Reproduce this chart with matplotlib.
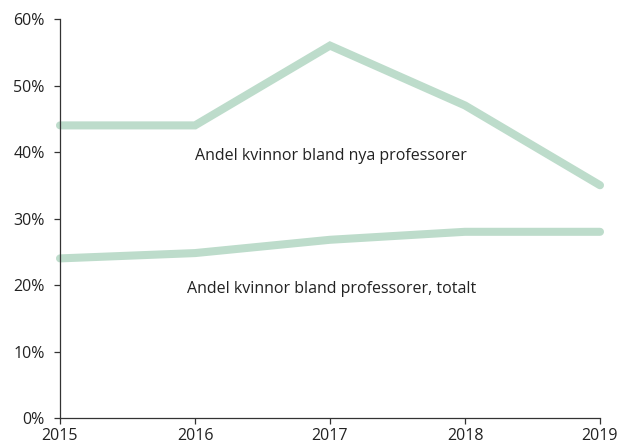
import matplotlib
matplotlib.use('Agg')
import matplotlib.pyplot as plt
from matplotlib.ticker import FuncFormatter

# andel kvinnor, procent
years = [2015, 2016, 2017, 2018, 2019]
nya_prof = [44, 44, 56, 47, 35]
prof_totalt = [24, 24.8, 26.8, 28, 28]
yticks = [0, 10, 20, 30, 40, 50, 60]

plt.rcParams['font.family'] = ['Open Sans', 'DejaVu Sans']
green = '#bddccb'

fig = plt.figure(figsize=(6.24, 4.46), dpi=100)
ax = fig.add_axes([60/624, 28/446, 540/624, 399/446])

ax.plot(years, nya_prof, color=green, lw=5.8, solid_capstyle='round', solid_joinstyle='miter', clip_on=False)
ax.plot(years, prof_totalt, color=green, lw=5.8, solid_capstyle='round', solid_joinstyle='miter', clip_on=False)

ax.text(2017.01, 39.4, 'Andel kvinnor bland nya professorer', ha='center', va='center', fontsize=11.5, color='#222222')
ax.text(2017.01, 19.4, 'Andel kvinnor bland professorer, totalt', ha='center', va='center', fontsize=11.5, color='#222222')

ax.set_xlim(2015, 2019)
ax.set_ylim(0, 60)
ax.set_xticks(years)
ax.set_yticks(yticks)
ax.yaxis.set_major_formatter(FuncFormatter(lambda v, p: f'{int(v)}%'))

for s in ['top', 'right']:
    ax.spines[s].set_visible(False)
for s in ['left', 'bottom']:
    ax.spines[s].set_color('#333333')
    ax.spines[s].set_linewidth(0.9)
ax.tick_params(direction='out', length=4, width=0.9, color='#333333', labelsize=11.5, labelcolor='#222222')
ax.tick_params(axis='x', pad=3)
ax.tick_params(axis='y', pad=7)

fig.savefig('out.png', dpi=100)
